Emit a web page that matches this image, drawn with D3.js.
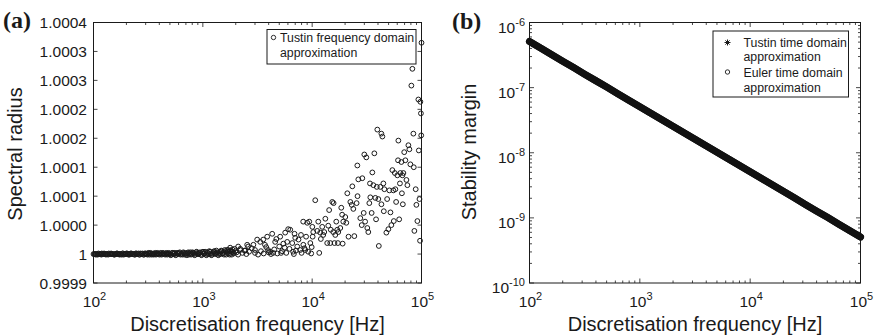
<!DOCTYPE html>
<html><head><meta charset="utf-8">
<script src="https://cdn.jsdelivr.net/npm/d3@7"></script>
<style>
html,body{margin:0;padding:0;background:#fff;}
svg{display:block;font-family:"Liberation Sans",Arial,Helvetica,sans-serif;}
</style></head>
<body>
<svg id="chart" width="875" height="336"></svg>
<script>
// ---------------- DATA ----------------
// (a) Tustin frequency domain approximation: [frequency Hz, spectral radius]
const tustinFreqBand = [
[100,1.000000],[103,1.000000],[106,1.000000],[109,0.999999],[113,1.000000],[116,1.000000],[119,1.000001],[123,1.000000],
[127,1.000000],[130,0.999999],[134,1.000000],[138,1.000001],[143,1.000000],[147,1.000000],[151,1.000000],[156,0.999999],
[160,1.000000],[165,1.000001],[170,1.000000],[175,1.000000],[181,0.999999],[186,1.000001],[192,1.000000],[197,1.000000],
[203,1.000001],[209,0.999999],[216,1.000000],[222,1.000001],[229,1.000000],[236,0.999999],[243,1.000001],[250,1.000000],
[258,1.000001],[265,0.999999],[273,1.000000],[281,1.000001],[290,0.999999],[299,1.000001],[307,1.000000],[317,1.000002],
[326,0.999999],[336,1.000001],[346,1.000000],[356,0.999999],[367,1.000002],[378,1.000000],[389,1.000001],[401,0.999999],
[413,1.000002],[426,1.000000],[438,1.000001],[452,0.999999],[465,1.000002],[479,1.000000],[493,1.000001],[508,0.999998],
[523,1.000002],[539,1.000000],[555,1.000002],[572,0.999999],[589,1.000001],[607,1.000002],[625,0.999999],[644,1.000001],
[663,1.000003],[683,0.999999],[703,1.000001],[724,1.000002],[746,0.999999],[769,1.000003],[792,1.000000],[815,1.000002],
[840,0.999998],[865,1.000003],[891,1.000001],[918,1.000000],[945,1.000003],[974,0.999998],[1003,1.000004],[1033,1.000001],
[1064,0.999999],[1096,1.000003],[1129,1.000000],[1163,1.000004],[1198,0.999998],[1234,1.000002],[1271,1.000005],[1309,1.000000],
[1348,1.000003],[1389,0.999998],[1430,1.000004],[1473,1.000006],[1517,1.000001],[1563,0.999999],[1610,1.000005],[1658,1.000002],
[1708,1.000007],[1759,0.999999],[1812,1.000004],[1866,1.000008],[1922,1.000001],[1980,1.000005],[2040,1.000003],[2100,0.999999],
[2200,1.000009],[2300,1.000002],[2400,1.000006],[2500,1.000000],[2650,1.000004],[2800,1.000010],[3000,1.000002],[3200,0.999999],
[3400,1.000005],[3600,1.000001],[3800,1.000012],[4000,1.000003],[4200,1.000000],[4500,1.000008],[4800,1.000001],[5300,1.000005],
[5800,1.000002],[6200,1.000009],[6800,1.000000],[7100,1.000006],[8000,1.000002],[8500,1.000010],[9200,1.000004],[9800,1.000001]
];
const tustinFreqBandMid = [
[102,1.000000],[105,0.999999],[108,1.000000],[111,1.000001],[115,1.000000],[118,0.999999],[121,1.000000],[125,1.000001],
[129,1.000000],[132,1.000000],[136,0.999999],[141,1.000000],[145,1.000001],[149,1.000000],[154,0.999999],[158,1.000000],
[163,1.000001],[168,1.000000],[173,0.999999],[178,1.000000],[184,1.000001],[189,0.999999],[195,1.000000],[200,1.000001],
[206,1.000000],[213,0.999999],[219,1.000001],[226,1.000000],[233,1.000000],[240,0.999999],[247,1.000001],[254,1.000000],
[262,0.999999],[269,1.000001],[277,1.000000],[286,0.999999],[295,1.000001],[303,1.000000],[312,0.999999],[322,1.000001],
[331,1.000002],[341,0.999999],[351,1.000001],[362,1.000000],[373,0.999999],[384,1.000002],[395,1.000000],[407,1.000001],
[420,0.999999],[432,1.000002],[445,1.000000],[459,1.000001],[472,0.999999],[486,1.000002],[501,1.000000],[516,0.999999],
[531,1.000002],[547,1.000001],[564,0.999998],[581,1.000002],[598,1.000000],[616,1.000003],[635,1.000000],[654,0.999999],
[673,1.000002],[693,1.000001],[714,0.999998],[735,1.000003],[758,1.000001],[781,0.999999],[804,1.000003],[828,1.000001],
[853,0.999999],[878,1.000004],[905,1.000000],[932,1.000002],[960,0.999999],[989,1.000003],[1018,1.000001],[1049,1.000004],
[1080,0.999998],[1113,1.000002],[1146,1.000005],[1181,1.000001],[1216,0.999999],[1253,1.000004],[1290,1.000001],[1329,1.000006],
[1369,0.999999],[1410,1.000002],[1452,1.000000],[1495,1.000005],[1540,1.000002],[1587,1.000007],[1634,0.999999],[1683,1.000004],
[1734,1.000001],[1786,1.000006],[1839,0.999999],[1894,1.000003],[1951,1.000009]
];
const tustinFreqScatter = [
[100000,1.000365],[82510,1.000320],[80790,1.000291],[93640,1.000267],[97670,1.000263],[98800,1.000243],
[39450,1.000215],[42950,1.000208],[43860,1.000203],[61430,1.000196],[84270,1.000208],[99400,1.000205],
[75870,1.000188],[77490,1.000181],[94500,1.000179],[29990,1.000172],[31280,1.000167],[37040,1.000174],
[61000,1.000162],[71220,1.000162],[79100,1.000155],[65460,1.000159],[25890,1.000153],[26440,1.000129],
[28750,1.000131],[35510,1.000141],[23300,1.000117],[36260,1.000119],[39000,1.000116],[44790,1.000122],
[42050,1.000116],[45750,1.000112],[50830,1.000110],[55290,1.000110],[57670,1.000112],[54140,1.000145],
[57000,1.000140],[64100,1.000140],[66860,1.000136],[60150,1.000136],[68280,1.000140],[63500,1.000122],
[74290,1.000119],[66200,1.000105],[67500,1.000086],[89770,1.000085],[91690,1.000057],[86060,1.000040],
[97000,1.000023],[34040,1.000098],[33330,1.000088],[35000,1.000071],[40290,1.000095],[37830,1.000097],
[29600,1.000071],[45200,1.000074],[40700,1.000014],[55800,1.000057],[53010,1.000050],[49770,1.000043],
[47720,1.000037],[31940,1.000045],[32620,1.000038],[27560,1.000062],[28400,1.000050],[24300,1.000031],
[22340,1.000090],[23000,1.000085],[23800,1.000078],[20960,1.000105],[20090,1.000064],[19260,1.000056],
[20520,1.000054],[18080,1.000045],[16970,1.000042],[17330,1.000038],[16270,1.000033],[15590,1.000038],
[19000,1.000018],[16000,1.000019],[14640,1.000019],[10670,1.000093],[15270,1.000090],[15700,1.000088],
[25500,1.000088],[18460,1.000080],[16610,1.000056],[14030,1.000049],[12360,1.000047],[12620,1.000033],
[11370,1.000056],[11130,1.000040],[9404,1.000056],[10035,1.000047],[10230,1.000038],[8280,1.000056],
[9016,1.000054],[11610,1.000002],[14300,1.000076],[6036,1.000043],[6300,1.000042],[5667,1.000037],
[5100,1.000030],[4308,1.000035],[3141,1.000025],[3349,1.000021],[3567,1.000025],[3880,1.000030],
[2545,1.000016],[2599,1.000013],[2105,1.000013],[2196,1.000007],[1669,1.000007],[1778,1.000011],
[1855,1.000004],[4589,1.000021],[5000,1.000013],[5911,1.000021],[6572,1.000019],[7301,1.000013],
[7780,1.000007],[8644,1.000007],[9620,1.000019],[3950,1.000007],[4130,1.000004],[4400,1.000002],
[5200,1.000002],[10100,1.000030],[11850,1.000037],[12900,1.000038],[13730,1.000019],[17200,1.000019],
[14800,1.000042],[2900,1.000016],[5450,1.000018],[7000,1.000028],[3700,1.000016],[3000,1.000007],
[2450,1.000006],[5600,1.000011],[6700,1.000004],[7500,1.000025],[8300,1.000016],[8800,1.000030],
[4700,1.000026],[6900,1.000035],[7900,1.000033],[9900,1.000012],[12000,1.000026],[13200,1.000061],
[18800,1.000068],[21500,1.000030],[26000,1.000100],[30500,1.000056],[33800,1.000122],[38400,1.000060],
[43000,1.000086],[48500,1.000095],[52000,1.000072],[58600,1.000090],[62500,1.000060],[69500,1.000176],
[72800,1.000128],[85000,1.000150],[88500,1.000112],[95800,1.000095]
];
const radiusTickValues = [0.99995,1.0,1.00005,1.0001,1.00015,1.0002,1.00025,1.0003,1.00035,1.0004];
const radiusTickLabels = ["0.9999","1","1.0000","1.0001","1.0001","1.0002","1.0002","1.0003","1.0003","1.0004"];

// (b) stability margin vs discretisation frequency
const marginFreq = [100,126,158,200,251,316,398,501,631,794,1000,1259,1585,1995,2512,3162,3981,5012,6310,7943,
  10000,12589,15849,19953,25119,31623,39811,50119,63096,79433,100000];
const tustinTimeMargin = [5.1e-7,4.05e-7,3.22e-7,2.55e-7,2.03e-7,1.61e-7,1.28e-7,1.02e-7,8.08e-8,6.42e-8,
  5.1e-8,4.05e-8,3.22e-8,2.56e-8,2.03e-8,1.61e-8,1.28e-8,1.02e-8,8.08e-9,6.42e-9,
  5.1e-9,4.05e-9,3.22e-9,2.56e-9,2.03e-9,1.61e-9,1.28e-9,1.02e-9,8.08e-10,6.42e-10,5.1e-10];
const eulerTimeMargin = [5.1e-7,4.05e-7,3.22e-7,2.55e-7,2.03e-7,1.61e-7,1.28e-7,1.02e-7,8.08e-8,6.42e-8,
  5.1e-8,4.05e-8,3.22e-8,2.56e-8,2.03e-8,1.61e-8,1.28e-8,1.02e-8,8.08e-9,6.42e-9,
  5.1e-9,4.05e-9,3.22e-9,2.56e-9,2.03e-9,1.61e-9,1.28e-9,1.02e-9,8.08e-10,6.42e-10,5.1e-10];

const freqDecades = [100,1000,10000,100000];
const marginDecades = [1e-10,1e-9,1e-8,1e-7,1e-6];

// ---------------- DRAW ----------------
const svg = d3.select("#chart");
const INK = "#1a1a1a";
const TICKF = 15.5, SUPF = 11, TITLEF = 20;

function minorLogTicks(lo, hi){
  const out=[];
  for(let d=lo; d<hi; d*=10) for(let k=2;k<=9;k++) out.push(d*k);
  return out;
}

function frame(x, y){
  const [x0,x1]=x.range(), [y0,y1]=y.range();
  svg.append("rect").attr("x",x0).attr("y",y1).attr("width",x1-x0).attr("height",y0-y1)
    .attr("fill","none").attr("stroke",INK).attr("stroke-width",1);
}

function xLogAxis(x, y){
  const [y0,y1]=y.range();
  const g=svg.append("g").attr("stroke",INK).attr("stroke-width",0.8);
  minorLogTicks(100,100000).forEach(v=>{
    const px=x(v);
    g.append("line").attr("x1",px).attr("x2",px).attr("y1",y0).attr("y2",y0-2.5);
    g.append("line").attr("x1",px).attr("x2",px).attr("y1",y1).attr("y2",y1+2.5);
  });
  freqDecades.forEach(v=>{
    const px=x(v);
    g.append("line").attr("x1",px).attr("x2",px).attr("y1",y0).attr("y2",y0-4.5);
    g.append("line").attr("x1",px).attr("x2",px).attr("y1",y1).attr("y2",y1+4.5);
    const t=svg.append("text").attr("x",px+1).attr("y",y0+24).attr("text-anchor","middle")
      .attr("font-size",TICKF).attr("fill",INK);
    t.append("tspan").text("10");
    t.append("tspan").attr("font-size",SUPF).attr("dy",-7).text(Math.round(Math.log10(v)));
  });
  const [x0,x1]=x.range();
  svg.append("text").attr("x",(x0+x1)/2).attr("y",331).attr("text-anchor","middle")
    .attr("font-size",TITLEF).attr("fill",INK).text("Discretisation frequency [Hz]");
}

// ---- panel (a)
const xA = d3.scaleLog().domain([100,100000]).range([93.5,421.5]);
const yA = d3.scaleLinear().domain([0.99995,1.0004]).range([283,22.5]);
frame(xA,yA);
xLogAxis(xA,yA);
{
  const g=svg.append("g").attr("stroke",INK).attr("stroke-width",0.8);
  radiusTickValues.forEach((v,i)=>{
    const py=yA(v);
    g.append("line").attr("x1",93.5).attr("x2",97.5).attr("y1",py).attr("y2",py);
    g.append("line").attr("x1",421.5).attr("x2",417.5).attr("y1",py).attr("y2",py);
    svg.append("text").attr("x",87).attr("y",py+5.5).attr("text-anchor","end")
      .attr("font-size",TICKF).attr("fill",INK).text(radiusTickLabels[i]);
  });
}
svg.append("text").attr("transform","translate(21.5,154) rotate(-90)").attr("text-anchor","middle")
  .attr("font-size",TITLEF).attr("fill",INK).text("Spectral radius");

const allA = tustinFreqBand.concat(tustinFreqBandMid, tustinFreqScatter);
svg.append("g").selectAll("circle").data(allA).join("circle")
  .attr("cx",d=>xA(d[0])).attr("cy",d=>yA(d[1])).attr("r",2.4)
  .attr("fill","none").attr("stroke",INK).attr("stroke-width",1);

// legend (a)
svg.append("rect").attr("x",267).attr("y",29.5).attr("width",149).attr("height",34.5)
  .attr("fill","#fff").attr("stroke",INK).attr("stroke-width",1);
svg.append("circle").attr("cx",273.5).attr("cy",37.5).attr("r",2.2).attr("fill","none").attr("stroke",INK).attr("stroke-width",0.9);
svg.append("text").attr("x",280).attr("y",42).attr("font-size",12.3).attr("fill",INK).text("Tustin frequency domain");
svg.append("text").attr("x",280).attr("y",56.5).attr("font-size",12.3).attr("fill",INK).text("approximation");

svg.append("text").attr("x",3).attr("y",28).attr("font-family","'Liberation Serif','Times New Roman',serif")
  .attr("font-weight","bold").attr("font-size",24).attr("fill",INK).text("(a)");

// ---- panel (b)
const xB = d3.scaleLog().domain([100,100000]).range([529.5,860.5]);
const yB = d3.scaleLog().domain([1e-10,1e-6]).range([283,22.5]);
frame(xB,yB);
xLogAxis(xB,yB);
{
  const g=svg.append("g").attr("stroke",INK).attr("stroke-width",0.8);
  minorLogTicks(1e-10,1e-6).forEach(v=>{
    const py=yB(v);
    g.append("line").attr("x1",529.5).attr("x2",532).attr("y1",py).attr("y2",py);
    g.append("line").attr("x1",860.5).attr("x2",858).attr("y1",py).attr("y2",py);
  });
  marginDecades.forEach(v=>{
    const py=yB(v);
    g.append("line").attr("x1",529.5).attr("x2",534).attr("y1",py).attr("y2",py);
    g.append("line").attr("x1",860.5).attr("x2",856).attr("y1",py).attr("y2",py);
    const t=svg.append("text").attr("x",525).attr("y",py+10).attr("text-anchor","end")
      .attr("font-size",TICKF).attr("fill",INK);
    t.append("tspan").text("10");
    t.append("tspan").attr("font-size",SUPF).attr("dy",-7).text("-"+Math.round(-Math.log10(v)));
  });
}
svg.append("text").attr("transform","translate(476,152) rotate(-90)").attr("text-anchor","middle")
  .attr("font-size",TITLEF).attr("fill",INK).text("Stability margin");

const lineB = d3.line().x(d=>xB(d[0])).y(d=>yB(d[1]));
const tustinPts = marginFreq.map((f,i)=>[f,tustinTimeMargin[i]]);
const eulerPts = marginFreq.map((f,i)=>[f,eulerTimeMargin[i]]);
[eulerPts,tustinPts].forEach(pts=>{
  svg.append("path").datum(pts).attr("d",lineB).attr("fill","none")
    .attr("stroke","#111").attr("stroke-width",7).attr("stroke-linecap","round").attr("stroke-linejoin","round");
});

// legend (b)
svg.append("rect").attr("x",713).attr("y",31).attr("width",135.5).attr("height",66)
  .attr("fill","#fff").attr("stroke",INK).attr("stroke-width",1);
{
  const ax=727.5, ay=42.5, s=3;
  const g=svg.append("g").attr("stroke",INK).attr("stroke-width",1);
  g.append("line").attr("x1",ax-s).attr("x2",ax+s).attr("y1",ay).attr("y2",ay);
  g.append("line").attr("x1",ax).attr("x2",ax).attr("y1",ay-s).attr("y2",ay+s);
  g.append("line").attr("x1",ax-s*0.7).attr("x2",ax+s*0.7).attr("y1",ay-s*0.7).attr("y2",ay+s*0.7);
  g.append("line").attr("x1",ax-s*0.7).attr("x2",ax+s*0.7).attr("y1",ay+s*0.7).attr("y2",ay-s*0.7);
}
svg.append("circle").attr("cx",727.5).attr("cy",72).attr("r",2.2).attr("fill","none").attr("stroke",INK).attr("stroke-width",0.9);
[["Tustin time domain",46.5],["approximation",61],["Euler time domain",76.5],["approximation",91.5]].forEach(([t,y])=>{
  svg.append("text").attr("x",743.5).attr("y",y).attr("font-size",12.3).attr("fill",INK).text(t);
});

svg.append("text").attr("x",452).attr("y",29).attr("font-family","'Liberation Serif','Times New Roman',serif")
  .attr("font-weight","bold").attr("font-size",24).attr("fill",INK).text("(b)");
</script>
</body></html>
